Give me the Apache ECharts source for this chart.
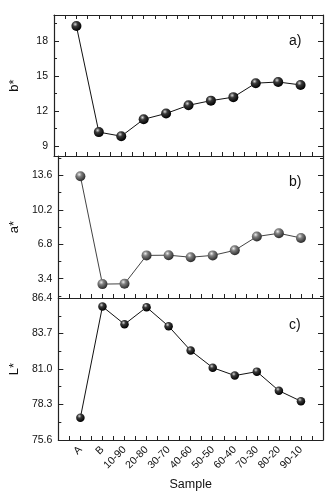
<!DOCTYPE html>
<html>
<head>
<meta charset="utf-8">
<script src="https://cdn.jsdelivr.net/npm/echarts@6/dist/echarts.min.js"></script>
<style>
  html, body { margin: 0; padding: 0; background: #fff; }
  #chart { width: 331px; height: 492px; }
</style>
</head>
<body>
<div id="chart"></div>
<script>
// samples along the x axis (placed at 1..11)
const samples = ['A', 'B', '10-90', '20-80', '30-70', '40-60', '50-50', '60-40', '70-30', '80-20', '90-10'];

// colour values
const bStar = [19.3, 10.2, 9.85, 11.3, 11.8, 12.5, 12.9, 13.2, 14.4, 14.5, 14.25];
const aStar = [13.5, 2.87, 2.9, 5.7, 5.72, 5.52, 5.7, 6.2, 7.56, 7.88, 7.42];
const lStar = [77.3, 85.75, 84.4, 85.7, 84.25, 82.4, 81.1, 80.5, 80.8, 79.35, 78.55];

// tick labels
const bTicks = [9, 12, 15, 18];
const aTicks = [3.4, 6.8, 10.2, 13.6];
const lTicks = [75.6, 78.3, 81.0, 83.7, 86.4];
const bMinor = [10.5, 13.5, 16.5, 19.5];
const aMinor = [1.7, 5.1, 8.5, 11.9, 15.3];
const lMinor = [76.95, 79.65, 82.35, 85.05];

const FONT = 'Liberation Sans, Arial, sans-serif';
const AXIS_COLOR = '#222';

const xTickVals = [];
for (let i = 1; i <= 23; i++) xTickVals.push(i / 2);
const xLabelVals = samples.map((s, i) => i + 1);

function xAxisFor(grid, showLabels, position) {
    return {
        type: 'value', gridIndex: grid, min: 0, max: 12,
        position: position || 'bottom',
        splitLine: { show: false },
        axisLine: { show: true, lineStyle: { color: AXIS_COLOR, width: 1.2 } },
        axisTick: { show: true, inside: true, length: 4, customValues: xTickVals,
            lineStyle: { color: AXIS_COLOR } },
        axisLabel: {
            show: showLabels, customValues: xLabelVals, rotate: 45, margin: 8,
            fontFamily: FONT, fontSize: 10.5, color: '#111',
            formatter: v => samples[Math.round(v) - 1] || ''
        }
    };
}

function yAxesFor(grid, min, max, major, minor, digits, name) {
    const base = {
        type: 'value', gridIndex: grid, min: min, max: max,
        splitLine: { show: false }
    };
    const tick = (vals, len) => ({ show: true, inside: true, length: len, customValues: vals,
        lineStyle: { color: AXIS_COLOR } });
    return [
        Object.assign({}, base, {
            position: 'left',
            name: name, nameLocation: 'middle', nameGap: 33, nameRotate: 90,
            nameTextStyle: { fontFamily: FONT, fontSize: 13, color: '#111' },
            axisLine: { show: true, lineStyle: { color: AXIS_COLOR, width: 1.2 } },
            axisTick: tick(major, 5),
            axisLabel: { show: true, customValues: major, margin: 6,
                fontFamily: FONT, fontSize: 10.5, color: '#111',
                formatter: v => v.toFixed(digits) }
        }),
        Object.assign({}, base, {
            position: 'left',
            axisLine: { show: false }, axisTick: tick(minor, 3), axisLabel: { show: false }
        }),
        Object.assign({}, base, {
            position: 'right',
            axisLine: { show: true, lineStyle: { color: AXIS_COLOR, width: 1.2 } },
            axisTick: tick(major, 5), axisLabel: { show: false }
        }),
        Object.assign({}, base, {
            position: 'right',
            axisLine: { show: false }, axisTick: tick(minor, 3), axisLabel: { show: false }
        })
    ];
}

function sphere(light, mid, dark) {
    return {
        type: 'radial', x: 0.38, y: 0.32, r: 0.68,
        colorStops: [
            { offset: 0, color: light },
            { offset: 0.35, color: mid },
            { offset: 1, color: dark }
        ]
    };
}

function seriesFor(grid, yIndex, values, lineColor, ball, size) {
    return {
        type: 'line', xAxisIndex: grid, yAxisIndex: yIndex,
        data: values.map((v, i) => [i + 1, v]),
        symbol: 'circle', symbolSize: size,
        lineStyle: { color: lineColor, width: 1 },
        itemStyle: { color: ball, borderWidth: 0 },
        animation: false, z: 3
    };
}

const chart = echarts.init(document.getElementById('chart'));

chart.setOption({
    backgroundColor: '#fff',
    animation: false,
    grid: [
        { left: 47, right: 8, top: 15, height: 141 },
        { left: 47, right: 8, top: 156, height: 142 },
        { left: 47, right: 8, top: 298, height: 142 }
    ],
    xAxis: [
        xAxisFor(0, false),
        xAxisFor(1, false),
        Object.assign(xAxisFor(2, true), {
            name: 'Sample', nameLocation: 'middle', nameGap: 38,
            nameTextStyle: { fontFamily: FONT, fontSize: 12.5, color: '#111' }
        }),
        xAxisFor(0, false, 'top')
    ],
    yAxis: [].concat(
        yAxesFor(0, 8.15, 20.25, bTicks, bMinor, 0, 'b*'),
        yAxesFor(1, 1.5, 15.5, aTicks, aMinor, 1, 'a*'),
        yAxesFor(2, 75.6, 86.4, lTicks, lMinor, 1, 'L*')
    ),
    series: [
        seriesFor(0, 0, bStar, '#111', sphere('#d8d8d8', '#3a3a3a', '#000'), 10),
        seriesFor(1, 4, aStar, '#444', sphere('#eeeeee', '#808080', '#2a2a2a'), 10),
        seriesFor(2, 8, lStar, '#111', sphere('#d8d8d8', '#3a3a3a', '#000'), 8.5)
    ],
    graphic: [
        { type: 'text', left: 289, top: 34, style: { text: 'a)', font: '14px ' + FONT, fill: '#111' } },
        { type: 'text', left: 289, top: 175, style: { text: 'b)', font: '14px ' + FONT, fill: '#111' } },
        { type: 'text', left: 289, top: 318, style: { text: 'c)', font: '14px ' + FONT, fill: '#111' } }
    ]
});
</script>
</body>
</html>
